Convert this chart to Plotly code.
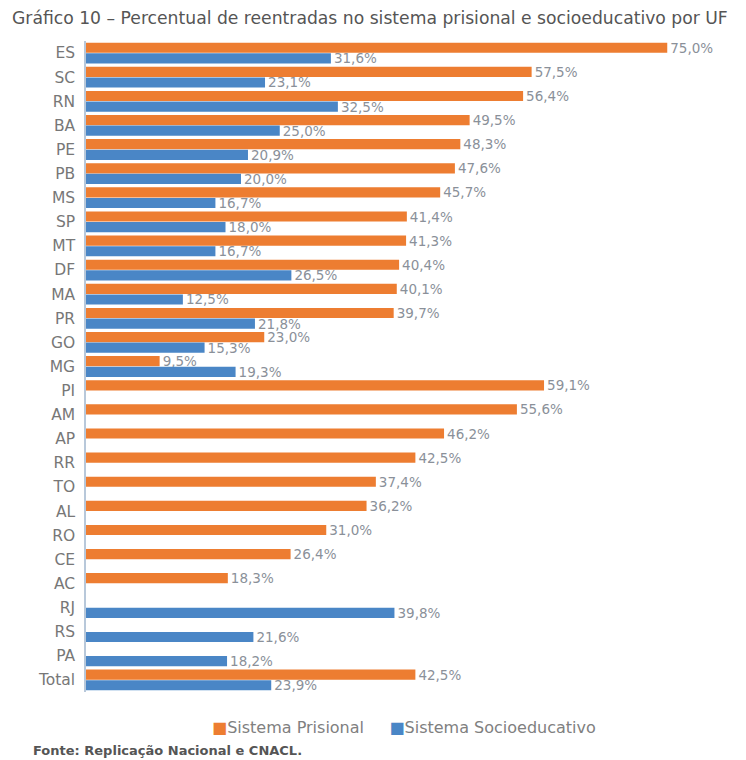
import plotly.graph_objects as go

categories = ["ES", "SC", "RN", "BA", "PE", "PB", "MS", "SP", "MT", "DF", "MA", "PR",
              "GO", "MG", "PI", "AM", "AP", "RR", "TO", "AL", "RO", "CE", "AC",
              "RJ", "RS", "PA", "Total"]
prisional = [75.0, 57.5, 56.4, 49.5, 48.3, 47.6, 45.7, 41.4, 41.3, 40.4, 40.1, 39.7,
             23.0, 9.5, 59.1, 55.6, 46.2, 42.5, 37.4, 36.2, 31.0, 26.4, 18.3,
             None, None, None, 42.5]
socioeducativo = [31.6, 23.1, 32.5, 25.0, 20.9, 20.0, 16.7, 18.0, 16.7, 26.5, 12.5, 21.8,
                  15.3, 19.3, None, None, None, None, None, None, None, None, None,
                  39.8, 21.6, 18.2, 23.9]
series_names = ["Sistema Prisional", "Sistema Socioeducativo"]

ORANGE = "#ED7D31"
BLUE = "#4A86C6"
LABEL = "#8A9099"
FONT = "DejaVu Sans"

fig = go.Figure()
for name, vals, col in [(series_names[0], prisional, ORANGE),
                        (series_names[1], socioeducativo, BLUE)]:
    fig.add_trace(go.Bar(
        y=categories, x=vals, orientation="h", name=name,
        marker=dict(color=col, line=dict(width=0)),
        texttemplate="%{x:.1f}%", textposition="outside", cliponaxis=False,
        constraintext="none",
        textfont=dict(family=FONT, size=13.5, color=LABEL),
    ))

fig.update_layout(
    width=746, height=760,
    separators=",.",
    barmode="group", bargap=0.12, bargroupgap=0.04,
    plot_bgcolor="white", paper_bgcolor="white",
    margin=dict(l=78, r=48, t=33, b=76),
    font=dict(family=FONT, color="#777777"),
    title=dict(text="Gráfico 10 – Percentual de reentradas no sistema prisional e socioeducativo por UF",
               x=0.0054, xanchor="left", y=0.9868, yanchor="middle",
               font=dict(family=FONT, size=17.2, color="#555555")),
    xaxis=dict(range=[0, 80], visible=False, automargin=False),
    yaxis=dict(categoryorder="array", categoryarray=categories, autorange="reversed",
               showline=True, linecolor="#B8C8DA", linewidth=1.5, showgrid=False,
               ticks="", ticklabelstandoff=6, automargin=False,
               tickfont=dict(family=FONT, size=15.5, color="#777777")),
    showlegend=False,
)
legend_text = (f"<span style='color:{ORANGE}'>■</span>{series_names[0]}"
               f"     <span style='color:{BLUE}'>■</span>{series_names[1]}")
fig.add_annotation(text=legend_text, xref="paper", yref="paper", x=0.513, y=-0.0538,
                   xanchor="center", yanchor="middle", showarrow=False,
                   font=dict(family=FONT, size=16, color="#808080"))
fig.add_annotation(text="<b>Fonte: Replicação Nacional e CNACL.</b>",
                   xref="paper", yref="paper", x=-0.0887, y=-0.0906,
                   xanchor="left", yanchor="middle", showarrow=False,
                   font=dict(family=FONT, size=13, color="#555555"))

fig.write_html("out.html")
